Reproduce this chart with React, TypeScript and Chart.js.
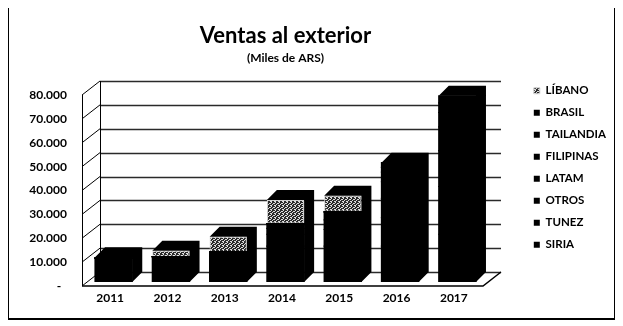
import React, { useEffect, useRef } from 'react';
import { Chart, registerables } from 'chart.js';

Chart.register(...registerables);

// ---- data ----
const categories = ['2011', '2012', '2013', '2014', '2015', '2016', '2017'];
const siria = [10000, 10600, 12500, 15000, 15000, 15000, 20000];
const tunez = [0, 0, 0, 5000, 7000, 12000, 20000];
const otros = [0, 0, 0, 2500, 4000, 8000, 15000];
const latam = [0, 0, 0, 2000, 3400, 7000, 10000];
const filipinas = [0, 0, 0, 0, 0, 4000, 6000];
const tailandia = [0, 0, 0, 0, 0, 2000, 4000];
const brasil = [0, 0, 0, 0, 0, 2000, 3000];
const libano = [400, 2500, 6500, 9800, 6700, 0, 0];
const yMin = 0;
const yMax = 80000;
const yStep = 10000;

// ---- layout constants ----
const W = 609;
const H = 314;
const FONT = 'Lato, "Open Sans", sans-serif';
const CHART_RIGHT = 479;
const BAR_D = { dx: 10, dy: -10 };
const WALL_F = { dx: -3, dy: 4 };
const WALL_B = { dx: 15, dy: -10 };

function fmt(v: number): string {
  if (v === 0) return '-  ';
  return String(v).replace(/\B(?=(\d{3})+(?!\d))/g, '.');
}

function makeSpeckle(ctx: CanvasRenderingContext2D): CanvasPattern | string {
  const c = document.createElement('canvas');
  c.width = 4;
  c.height = 4;
  const g = c.getContext('2d');
  if (!g) return '#555';
  g.fillStyle = '#2a2a2a';
  g.fillRect(0, 0, 4, 4);
  g.fillStyle = '#dcdcdc';
  const pts = [[0, 0], [2, 1], [1, 2], [3, 3], [3, 1], [0, 3]];
  pts.forEach(([x, y]) => g.fillRect(x, y, 1, 1));
  return ctx.createPattern(c, 'repeat') || '#555';
}

const frame3d = {
  id: 'frame3d',
  beforeDraw(chart: any) {
    const { ctx, width, height } = chart;
    ctx.save();
    ctx.strokeStyle = '#000';
    ctx.lineWidth = 2;
    ctx.strokeRect(1, 1, width - 2, height - 2);
    ctx.restore();
  },
  beforeDatasetsDraw(chart: any) {
    const { ctx, chartArea: a } = chart;
    const y = chart.scales.y;
    const y0 = y.getPixelForValue(yMin);
    const yT = y.getPixelForValue(yMax);
    const fl = a.left + WALL_F.dx;
    const bl = a.left + WALL_B.dx;
    const fr = a.right + WALL_F.dx;
    const br = a.right + WALL_B.dx;
    ctx.save();
    ctx.strokeStyle = '#2a2a2a';
    ctx.lineWidth = 1.6;
    y.ticks.forEach((t: any) => {
      const py = Math.round(y.getPixelForValue(t.value) + WALL_B.dy) + 0.5;
      ctx.beginPath();
      ctx.moveTo(bl, py);
      ctx.lineTo(br, py);
      ctx.stroke();
    });
    ctx.strokeStyle = '#000';
    ctx.lineWidth = 1;
    y.ticks.forEach((t: any) => {
      const p = y.getPixelForValue(t.value);
      ctx.beginPath();
      ctx.moveTo(fl, p + WALL_F.dy);
      ctx.lineTo(bl, p + WALL_B.dy);
      ctx.stroke();
    });
    ctx.beginPath();
    ctx.moveTo(Math.round(fl) + 0.5, yT + WALL_F.dy);
    ctx.lineTo(Math.round(fl) + 0.5, y0 + WALL_F.dy);
    ctx.stroke();
    ctx.beginPath();
    ctx.moveTo(Math.round(bl) + 0.5, yT + WALL_B.dy);
    ctx.lineTo(Math.round(bl) + 0.5, y0 + WALL_B.dy);
    ctx.stroke();
    ctx.lineWidth = 1.5;
    ctx.beginPath();
    ctx.moveTo(fl, y0 + WALL_F.dy);
    ctx.lineTo(fr, y0 + WALL_F.dy);
    ctx.lineTo(br, y0 + WALL_B.dy);
    ctx.stroke();
    ctx.restore();
  },
  afterDatasetsDraw(chart: any) {
    const { ctx } = chart;
    const y0 = chart.scales.y.getPixelForValue(yMin);
    const n = chart.data.labels.length;
    ctx.save();
    ctx.fillStyle = '#000';
    for (let i = 0; i < n; i++) {
      let top = Infinity;
      let left = 0;
      let right = 0;
      let found = false;
      chart.data.datasets.forEach((ds: any, di: number) => {
        const meta = chart.getDatasetMeta(di);
        if (meta.hidden) return;
        const el = meta.data[i];
        if (!el || !(ds.data[i] > 0)) return;
        const p = el.getProps(['x', 'y', 'width'], true);
        if (p.y < top) top = p.y;
        left = p.x - p.width / 2;
        right = p.x + p.width / 2;
        found = true;
      });
      if (!found) continue;
      ctx.beginPath();
      ctx.moveTo(left, top);
      ctx.lineTo(left + BAR_D.dx, top + BAR_D.dy);
      ctx.lineTo(right + BAR_D.dx, top + BAR_D.dy);
      ctx.lineTo(right + BAR_D.dx, y0 + BAR_D.dy);
      ctx.lineTo(right, y0);
      ctx.lineTo(right, top);
      ctx.closePath();
      ctx.fill();
    }
    ctx.restore();
  },
};

export default function App() {
  const ref = useRef<HTMLCanvasElement | null>(null);

  useEffect(() => {
    const canvas = ref.current;
    if (!canvas) return;
    const ctx = canvas.getContext('2d');
    if (!ctx) return;
    const speckle = makeSpeckle(ctx);
    const black = '#000000';
    const mk = (label: string, data: number[], color: any, border = 0, bcolor = black, inflate = 0.6) => ({
      label,
      data,
      backgroundColor: color,
      borderColor: bcolor,
      borderWidth: border,
      borderSkipped: false,
      inflateAmount: inflate,
      barPercentage: 0.65,
      categoryPercentage: 1,
    });
    const chart = new Chart(ctx, {
      type: 'bar',
      data: {
        labels: categories,
        datasets: [
          mk('SIRIA', siria, black),
          mk('TUNEZ', tunez, black),
          mk('OTROS', otros, black),
          mk('LATAM', latam, black),
          mk('FILIPINAS', filipinas, black),
          mk('TAILANDIA', tailandia, black),
          mk('BRASIL', brasil, black),
          mk('LÍBANO', libano, speckle, 1, '#d0d0d0', 0),
        ] as any,
      },
      options: {
        responsive: false,
        animation: false,
        devicePixelRatio: 1,
        layout: { padding: 0 },
        plugins: {
          tooltip: { enabled: false },
          title: {
            display: true,
            text: 'Ventas al exterior',
            fullSize: false,
            color: '#000',
            font: { family: FONT, size: 22, weight: 'bold' },
            padding: { top: 16.3, bottom: 0 },
          },
          subtitle: {
            display: true,
            text: '(Miles de ARS)',
            fullSize: false,
            color: '#000',
            font: { family: FONT, size: 12, weight: 'bold' },
            padding: { top: 2.1, bottom: 25.8 },
          },
          legend: {
            position: 'right',
            align: 'start',
            reverse: true,
            title: {
              display: true,
              text: '',
              font: { size: 1, lineHeight: 1 },
              padding: { top: 67.5, bottom: 0 },
            },
            labels: {
              boxWidth: 6,
              boxHeight: 6,
              padding: 10.5,
              color: '#000',
              font: { family: FONT, size: 11.5, weight: 'bold' },
            },
          },
        },
        scales: {
          x: {
            stacked: true,
            grid: { display: false, drawTicks: false },
            border: { display: false },
            ticks: {
              color: '#000',
              font: { family: FONT, size: 12, weight: 'bold' },
              padding: 9,
              labelOffset: -3.5,
              maxRotation: 0,
            },
            afterFit: (s: any) => {
              s.height = 38;
            },
          },
          y: {
            stacked: true,
            min: yMin,
            max: yMax,
            grid: { display: false, drawTicks: false },
            border: { display: false },
            ticks: {
              stepSize: yStep,
              color: '#000',
              font: { family: FONT, size: 12, weight: 'bold' },
              padding: 18,
              labelOffset: 4,
              callback: (v: any) => fmt(Number(v)),
            },
            afterFit: (s: any) => {
              s.width = 78;
            },
          },
          y2: {
            position: 'right',
            display: true,
            grid: { display: false, drawTicks: false },
            border: { display: false },
            ticks: { display: false },
            afterFit: (s: any) => {
              const lg = s.chart.legend;
              const lw = lg && lg.width ? lg.width : 94;
              s.width = Math.max(0, W - lw - CHART_RIGHT);
            },
          },
        },
      } as any,
      plugins: [frame3d],
    });
    return () => chart.destroy();
  }, []);

  return (
    <div style={{ position: 'relative', width: W, height: H, top: -2, left: -1 }}>
      <canvas ref={ref} width={W} height={H} style={{ display: 'block', width: W, height: H }} />
    </div>
  );
}
